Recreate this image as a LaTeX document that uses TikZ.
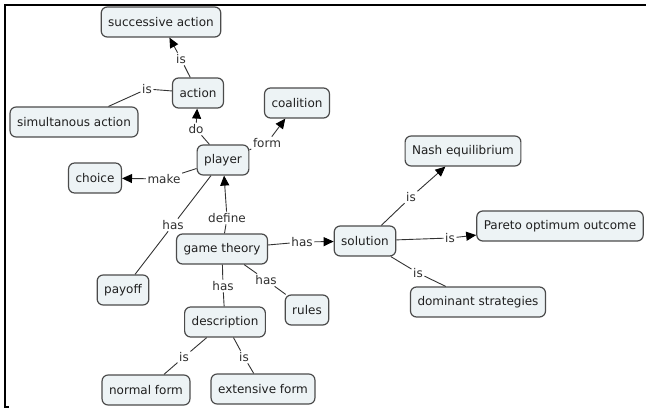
\documentclass[tikz,border=0pt]{standalone}
\usepackage{fontspec}
\setmainfont{DejaVu Sans}
\usetikzlibrary{positioning,arrows.meta}
\definecolor{conceptfill}{RGB}{237,243,245}
\definecolor{conceptline}{RGB}{75,75,75}
\tikzset{
    concept/.style={draw=conceptline, fill=conceptfill, line width=1.2pt, rounded corners=6pt,
        minimum height=30pt, inner xsep=7pt, text=black!88, font=\fontsize{12pt}{14pt}\selectfont},
    linkword/.style={inner sep=1.5pt, text=black!82, font=\fontsize{12pt}{14pt}\selectfont},
    link/.style={draw=black!80, line width=0.9pt},
    linkto/.style={link, -{Triangle[length=10pt,width=9pt,color=black]}},
}

\begin{document}
\begin{tikzpicture}[x=1pt,y=1pt,on grid]
        \useasboundingbox (0,0) rectangle (646,-409);
        \draw[line width=2pt] (646,-5) -- (5,-5) -- (5,-407) -- (9,-407);
        % concepts
        \node[concept] (gt) at (222,-249) {game theory};
        \node[concept, above right=89pt and 1pt of gt] (player) {player};
        \node[concept, above left=67pt and 25pt of player] (action) {action};
        \node[concept, above left=71pt and 37pt of action] (succ) {successive action};
        \node[concept, below left=29pt and 124pt of action] (simul) {simultanous action};
        \node[concept, above right=57pt and 74pt of player] (coal) {coalition};
        \node[concept, below left=18pt and 128pt of player] (choice) {choice};
        \node[concept, below left=41pt and 99pt of gt] (payoff) {payoff};
        \node[concept, below right=73pt and 3pt of gt] (descr) {description};
        \node[concept, below right=61pt and 85pt of gt] (rules) {rules};
        \node[concept, below left=68pt and 79pt of descr] (normal) {normal form};
        \node[concept, below right=67pt and 38pt of descr] (extens) {extensive form};
        \node[concept, above right=8pt and 143pt of gt] (sol) {solution};
        \node[concept, above right=90pt and 98pt of sol] (nash) {Nash equilibrium};
        \node[concept, above right=15pt and 195pt of sol] (pareto) {Pareto optimum outcome};
        \node[concept, below right=61pt and 113pt of sol] (domin) {dominant strategies};
        % linking words
        \node[linkword, above left=34pt and 17pt of action] (isSucc) {is};
        \node[linkword, above left=4pt and 51pt of action] (isSimul) {is};
        \node[linkword, above left=31pt and 27pt of player] (do) {do};
        \node[linkword, above right=17pt and 44pt of player] (form) {form};
        \node[linkword, below left=19pt and 59pt of player] (make) {make};
        \node[linkword, below left=65pt and 50pt of player] (hasPay) {has};
        \node[linkword, above right=31pt and 5pt of gt] (define) {define};
        \node[linkword, above right=7pt and 80pt of gt] (hasSol) {has};
        \node[linkword, below right=37pt and 1pt of gt] (hasDescr) {has};
        \node[linkword, below right=31pt and 44pt of gt] (hasRules) {has};
        \node[linkword, below left=35pt and 41pt of descr] (isNormal) {is};
        \node[linkword, below right=35pt and 19pt of descr] (isExtens) {is};
        \node[linkword, above right=44pt and 46pt of sol] (isNash) {is};
        \node[linkword, above right=3pt and 85pt of sol] (isPareto) {is};
        \node[linkword, below right=32pt and 53pt of sol] (isDomin) {is};
        % connectors
        \draw[link] (action) -- (isSucc);
        \draw[linkto] (isSucc) -- (succ);
        \draw[link] (action) -- (isSimul) -- (simul);
        \draw[link] (player) -- (do);
        \draw[linkto] (do) -- (action);
        \draw[link] (player) -- (form);
        \draw[linkto] (form) -- (coal);
        \draw[link] (player) -- (make);
        \draw[linkto] (make) -- (choice);
        \draw[link] (player) -- (hasPay) -- (payoff);
        \draw[link] (gt) -- (define);
        \draw[linkto] (define) -- (player);
        \draw[link] (gt) -- (hasSol);
        \draw[linkto] (hasSol) -- (sol);
        \draw[link] (gt) -- (hasDescr) -- (descr);
        \draw[link] (gt) -- (hasRules) -- (rules);
        \draw[link] (descr) -- (isNormal) -- (normal);
        \draw[link] (descr) -- (isExtens) -- (extens);
        \draw[link] (sol) -- (isNash);
        \draw[linkto] (isNash) -- (nash);
        \draw[link] (sol) -- (isPareto);
        \draw[linkto] (isPareto) -- (pareto);
        \draw[link] (sol) -- (isDomin) -- (domin);
\end{tikzpicture}
\end{document}
